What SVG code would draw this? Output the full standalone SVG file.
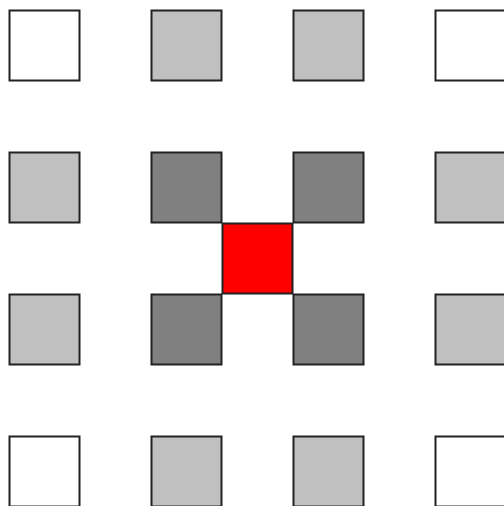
<svg xmlns="http://www.w3.org/2000/svg" width="504" height="506" viewBox="0 0 504 506">
<style>
.s{stroke:#222;stroke-width:2}
.w{fill:#fff}.l{fill:#c0c0c0}.d{fill:#808080}.r{fill:#ff0000}
</style>
<rect width="504" height="506" fill="#fff"/>
<g id="r0c0"><rect class="s w" x="9.5" y="10.5" width="70" height="70"/></g>
<g id="r0c1"><rect class="s l" x="151.5" y="10.5" width="70" height="70"/></g>
<g id="r0c2"><rect class="s l" x="293.5" y="10.5" width="70" height="70"/></g>
<g id="r0c3"><rect class="s w" x="435.5" y="10.5" width="70" height="70"/></g>
<g id="r1c0"><rect class="s l" x="9.5" y="152.5" width="70" height="70"/></g>
<g id="r1c1"><rect class="s d" x="151.5" y="152.5" width="70" height="70"/></g>
<g id="r1c2"><rect class="s d" x="293.5" y="152.5" width="70" height="70"/></g>
<g id="r1c3"><rect class="s l" x="435.5" y="152.5" width="70" height="70"/></g>
<g id="r2c0"><rect class="s l" x="9.5" y="294.5" width="70" height="70"/></g>
<g id="r2c1"><rect class="s d" x="151.5" y="294.5" width="70" height="70"/></g>
<g id="r2c2"><rect class="s d" x="293.5" y="294.5" width="70" height="70"/></g>
<g id="r2c3"><rect class="s l" x="435.5" y="294.5" width="70" height="70"/></g>
<g id="r3c0"><rect class="s w" x="9.5" y="436.5" width="70" height="70"/></g>
<g id="r3c1"><rect class="s l" x="151.5" y="436.5" width="70" height="70"/></g>
<g id="r3c2"><rect class="s l" x="293.5" y="436.5" width="70" height="70"/></g>
<g id="r3c3"><rect class="s w" x="435.5" y="436.5" width="70" height="70"/></g>
<g id="center"><rect class="s r" x="222.5" y="223.5" width="70" height="70"/></g>
<g id="connectors"></g>
</svg>
